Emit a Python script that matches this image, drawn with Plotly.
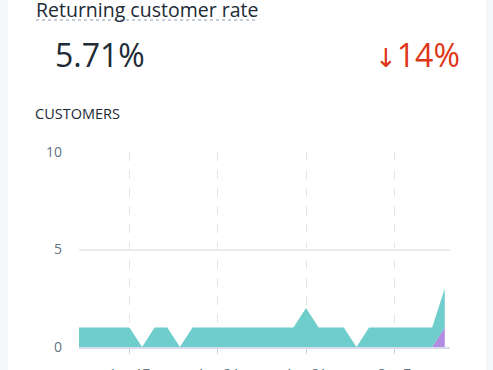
import plotly.graph_objects as go
import pandas as pd

dates = pd.date_range("2023-08-13", "2023-09-11", freq="D")
first_time = [1, 1, 1, 1, 1, 0, 1, 1, 0, 1, 1, 1, 1, 1, 1, 1, 1, 1, 2, 1, 1, 1, 0, 1, 1, 1, 1, 1, 1, 2]
returning = [0, 0, 0, 0, 0, 0, 0, 0, 0, 0, 0, 0, 0, 0, 0, 0, 0, 0, 0, 0, 0, 0, 0, 0, 0, 0, 0, 0, 0, 1]
y_ticks = [0, 5, 10]
x_ticks = ["2023-08-17", "2023-08-24", "2023-08-31", "2023-09-07"]
x_tick_labels = ["Aug 17", "Aug 24", "Aug 31", "Sep 7"]

FONT = "Open Sans"
fig = go.Figure()
fig.add_trace(go.Scatter(x=dates, y=returning, stackgroup="one", mode="lines",
                         line=dict(width=0, color="#b28be2"), fillcolor="#b28be2",
                         name="Returning"))
fig.add_trace(go.Scatter(x=dates, y=first_time, stackgroup="one", mode="lines",
                         line=dict(width=0, color="#6fcdcb"), fillcolor="#6fcdcb",
                         name="First-time"))

fig.update_layout(
    width=493, height=370,
    margin=dict(l=79, r=43, t=152, b=23, autoexpand=False),
    paper_bgcolor="white", plot_bgcolor="white",
    showlegend=False,
    font=dict(family=FONT),
    xaxis=dict(
        type="date", automargin=False,
        range=["2023-08-13", "2023-09-11 10:00"],
        tickvals=x_ticks, ticktext=x_tick_labels,
        showgrid=True, gridcolor="#e4e4e4", griddash="dash", gridwidth=1,
        showline=True, linecolor="#d6dcec", linewidth=2,
        ticks="outside", ticklen=5, tickcolor="#c9d2e6", tickwidth=1,
        tickfont=dict(size=13, color="#637381", family=FONT),
        ticklabelstandoff=8,
        zeroline=False, fixedrange=True,
    ),
    yaxis=dict(
        range=[0, 10], tickvals=y_ticks, automargin=False,
        showgrid=True, gridcolor="#ebebeb", gridwidth=1.5,
        zeroline=False, showline=False,
        tickfont=dict(size=14, color="#637381", family=FONT),
        ticklabelstandoff=16, fixedrange=True,
    ),
    shapes=[
        dict(type="rect", xref="paper", yref="paper", x0=-79/371, x1=-71/371, y0=-1, y1=2,
             fillcolor="#f4f6f8", line=dict(width=0), layer="below"),
        dict(type="rect", xref="paper", yref="paper", x0=(486-79)/371, x1=(493-79)/371, y0=-1, y1=2,
             fillcolor="#f4f6f8", line=dict(width=0), layer="below"),
        dict(type="line", xref="paper", yref="paper", x0=(36-79)/371, x1=(256-79)/371,
             y0=(370-23-20)/195, y1=(370-23-20)/195,
             line=dict(color="#c4cdd5", width=2, dash="dot")),
    ],
    annotations=[
        dict(text="Returning customer rate", xref="paper", yref="paper",
             x=(34-79)/371, y=(347-9)/195, xanchor="left", yanchor="middle", showarrow=False,
             font=dict(size=19.5, color="#212b36", family=FONT)),
        dict(text="5.71%", xref="paper", yref="paper",
             x=(53-79)/371, y=(347-54)/195, xanchor="left", yanchor="middle", showarrow=False,
             font=dict(size=32, color="#212b36", family=FONT)),
        dict(text="<span style='font-family:DejaVu Sans;font-size:26px'>↓</span>14%",
             xref="paper", yref="paper",
             x=(462-79)/371, y=(347-54)/195, xanchor="right", yanchor="middle", showarrow=False,
             font=dict(size=32, color="#de3618", family=FONT)),
        dict(text="CUSTOMERS", xref="paper", yref="paper",
             x=(33-79)/371, y=(347-113)/195, xanchor="left", yanchor="middle", showarrow=False,
             font=dict(size=14.5, color="#212b36", family=FONT)),
    ],
)

fig.write_html("out.html", config={"displayModeBar": False})
